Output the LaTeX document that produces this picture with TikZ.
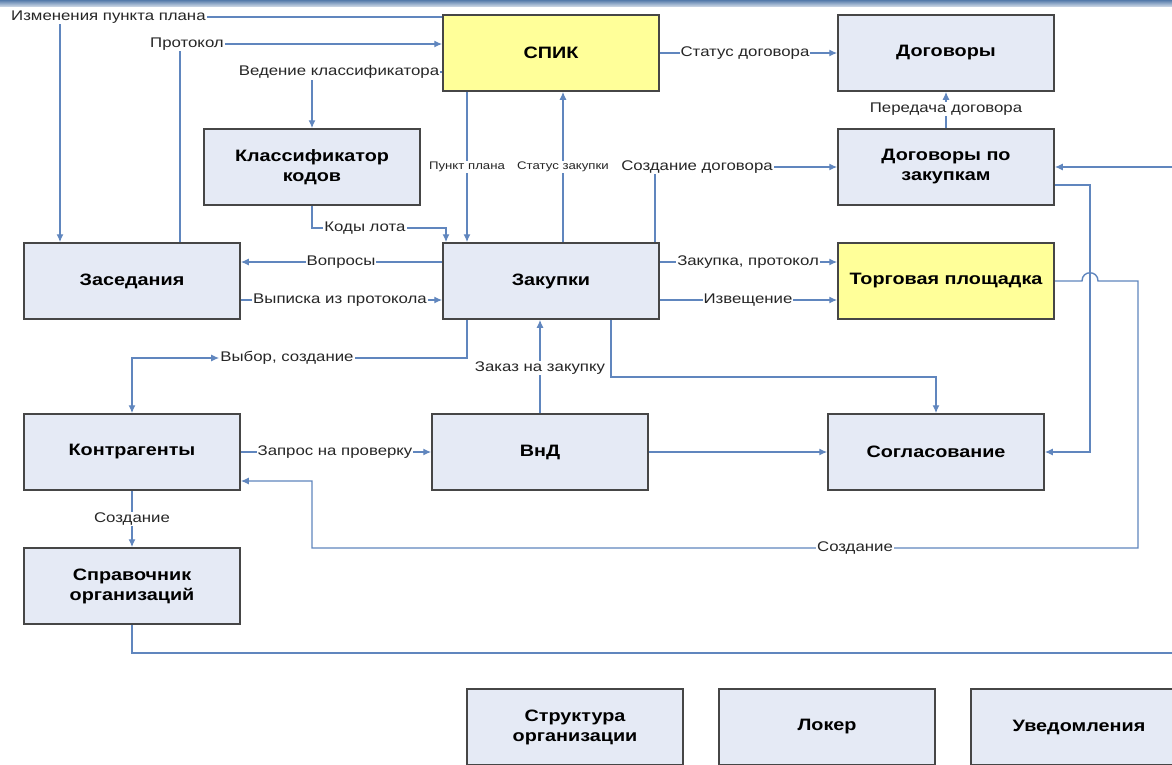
\documentclass[tikz,border=0pt]{standalone}
\usepackage{fontspec}
\setmainfont[FakeStretch=1.2]{Liberation Sans}
\usetikzlibrary{arrows.meta,backgrounds,calc}

\definecolor{boxfill}{RGB}{229,234,245}
\definecolor{boxyellow}{RGB}{255,255,153}
\definecolor{boxline}{RGB}{70,70,70}
\definecolor{linkblue}{RGB}{96,134,190}
\definecolor{bandblue}{RGB}{84,122,170}

\tikzset{
  block/.style={draw=boxline, fill=boxfill, line width=1.5pt, minimum width=216pt,
    minimum height=76pt, align=center, inner sep=2pt,
    font=\fontsize{16.5}{20}\selectfont\bfseries},
  hot/.style={block, fill=boxyellow},
  link/.style={draw=linkblue, line width=1.4pt},
  flow/.style={link, -{Latex[length=8pt,width=7pt]}},
  lbl/.style={fill=white, inner sep=1pt, text=black!85,
    font=\fontsize{14}{16}\selectfont},
  smalllbl/.style={lbl, font=\fontsize{11}{13}\selectfont},
}

\begin{document}
\begin{tikzpicture}[x=1pt,y=-1pt]
    \useasboundingbox (0,0) rectangle (1172,764);
    \clip (0,0) rectangle (1172,764);
    % Blocks
    \node[hot]   (spik)   at (551,53)   {СПИК};
    \node[block] (dog)    at (946,53)   {Договоры};
    \node[block] (klass)  at (312,167)  {Классификатор\\кодов};
    \node[block] (dogz)   at (946,167)  {Договоры по\\закупкам};
    \node[block] (zased)  at (132,281)  {Заседания};
    \node[block] (zak)    at (551,281)  {Закупки};
    \node[hot]   (torg)   at (946,281)  {Торговая площадка};
    \node[block] (kontr)  at (132,452)  {Контрагенты};
    \node[block] (vnd)    at (540,452)  {ВнД};
    \node[block] (sogl)   at (936,452)  {Согласование};
    \node[block] (sprav)  at (132,586)  {Справочник\\организаций};
    \node[block] (strukt) at (575,727)  {Структура\\организации};
    \node[block] (loker)  at (827,727)  {Локер};
    \node[block] (uved)   at (1079,727) {Уведомления};
    % Connector labels
    \node[lbl, anchor=west] (izm) at (10,17) {Изменения пункта плана};
    \node[lbl] (prot)    at (187,44)  {Протокол};
    \node[lbl] (ved)     at (339,72)  {Ведение классификатора};
    \node[lbl] (statd)   at (745,53)  {Статус договора};
    \node[lbl] (pered)   at (946,109) {Передача договора};
    \node[smalllbl] (punkt) at (467,167) {Пункт плана};
    \node[smalllbl] (statz) at (563,167) {Статус закупки};
    \node[lbl] (sozdd)   at (697,167) {Создание договора};
    \node[lbl] (kody)    at (365,228) {Коды лота};
    \node[lbl] (vopr)    at (341,262) {Вопросы};
    \node[lbl] (vyp)     at (340,300) {Выписка из протокола};
    \node[lbl] (zakprot) at (748,262) {Закупка, протокол};
    \node[lbl] (izv)     at (748,300) {Извещение};
    \node[lbl] (vybor)   at (287,358) {Выбор, создание};
    \node[lbl] (zakaz)   at (540,368) {Заказ на закупку};
    \node[lbl] (zapros)  at (335,452) {Запрос на проверку};
    \node[lbl] (sozdk)   at (855,548) {Создание};
    \node[lbl] (sozds)   at (132,519) {Создание};
    % Free ends at the right border
    \coordinate (edgeA) at (1172,167);
    \coordinate (edgeB) at (1172,653);
    \begin{scope}[on background layer]
      \fill[white] (0,0) rectangle (1172,764);
      \fill[top color=bandblue, bottom color=bandblue!35] (0,0) rectangle (1172,6);
      % Around SPIK
      \draw[flow] (spik.west |- izm) -| (zased.north -| 60,0);
      \draw[flow] (zased.north -| 180,0) |- (spik.west |- prot);
      \draw[flow] (spik.west |- ved) -| (klass.north);
      \draw[flow] (spik.east) -- (dog.west);
      \draw[flow] (dogz.north) -- (dog.south);
      \draw[flow] (spik.south -| punkt) -- (zak.north -| punkt);
      \draw[flow] (zak.north -| statz) -- (spik.south -| statz);
      \draw[flow] (zak.north -| 655,0) |- (dogz.west);
      \draw[flow] (klass.south) |- (kody) -| (zak.north -| 446,0);
      % Around Zakupki
      \draw[flow] (zak.west |- vopr) -- (zased.east |- vopr);
      \draw[flow] (zased.east |- vyp) -- (zak.west |- vyp);
      \draw[flow] (zak.east |- zakprot) -- (torg.west |- zakprot);
      \draw[flow] (zak.east |- izv) -- (torg.west |- izv);
      \draw[flow, {Latex[length=8pt,width=7pt]}-{Latex[length=8pt,width=7pt]}]
        (zak.south -| punkt) |- (vybor) -| (kontr.north);
      \draw[flow] (vnd.north) -- (zak.south -| vnd.north);
      \draw[flow] (zak.south -| 611,0) |- (sogl.north |- 0,377) -- (sogl.north);
      % Lower row
      \draw[flow] (kontr.east) -- (vnd.west);
      \draw[flow] (vnd.east) -- (sogl.west);
      \draw[flow] (dogz.east |- 0,185) -| (sogl.east -| 1090,0) -- (sogl.east);
      \draw[flow] (torg.east) -- (1082,281) .. controls (1082,270) and (1098,270) .. (1098,281)
        -- (1138,281) |- (sozdk) -- (312,548) |- (kontr.east |- 0,481);
      \draw[flow] (kontr.south) -- (sprav.north);
      \draw[link] (sprav.south) |- (edgeB);
      \draw[flow] (edgeA) -- (dogz.east |- edgeA);
    \end{scope}
\end{tikzpicture}
\end{document}
